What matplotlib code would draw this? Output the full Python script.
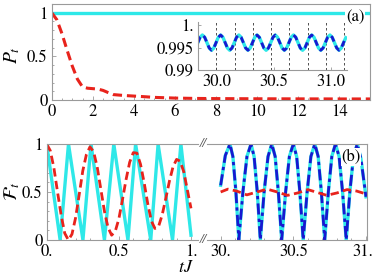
import numpy as np
import matplotlib
matplotlib.use("Agg")
import matplotlib.pyplot as plt
import matplotlib.transforms as mtrans
from matplotlib.ticker import MultipleLocator

plt.rcParams['font.family'] = ['STIXGeneral', 'DejaVu Serif']
plt.rcParams['mathtext.fontset'] = 'stix'

# ---- data ----
# (a) survival probability P_t
t_a = [0, 0.25, 0.5, 0.75, 1.0, 1.25, 1.5, 1.75, 2.0, 2.25, 2.5, 2.75, 3.0,
       3.5, 4.0, 4.5, 5.0, 6.0, 7.0, 8.0, 10.0, 12.0, 14.0, 15.5]
p_red = [1.0, 0.92, 0.76, 0.57, 0.39, 0.24, 0.15, 0.135, 0.13, 0.125, 0.11,
         0.085, 0.062, 0.052, 0.045, 0.038, 0.03, 0.022, 0.018, 0.016, 0.014,
         0.013, 0.012, 0.012]
t_cyan_a = [0, 15.5]
p_cyan = [0.996, 0.996]

# inset of (a), late times
t_ins = np.linspace(29.838, 31.1299, 66)
p_ins = [0.9961, 0.9973, 0.9978, 0.9973, 0.9961, 0.9949, 0.9944, 0.9949,
         0.9961, 0.9973, 0.9978, 0.9973, 0.9961, 0.9949, 0.9944, 0.9949,
         0.9961, 0.9973, 0.9978, 0.9973, 0.9961, 0.9949, 0.9944, 0.9949,
         0.9961, 0.9973, 0.9978, 0.9973, 0.9961, 0.9949, 0.9944, 0.9949,
         0.9961, 0.9973, 0.9978, 0.9973, 0.9961, 0.9949, 0.9944, 0.9949,
         0.9961, 0.9973, 0.9978, 0.9973, 0.9961, 0.9949, 0.9944, 0.9949,
         0.9961, 0.9973, 0.9978, 0.9973, 0.9961, 0.9949, 0.9944, 0.9949,
         0.9961, 0.9973, 0.9978, 0.9973, 0.9961, 0.9949, 0.9944, 0.9949,
         0.9961, 0.9972]
ins_grid = [29.84, 29.999, 30.159, 30.318, 30.478, 30.637, 30.796, 30.956, 31.115]

# (b) fidelity, early times
t_b1_cyan = [0, 0.093, 0.151, 0.251, 0.307, 0.40, 0.465, 0.563, 0.616,
             0.721, 0.772, 0.872, 0.93, 1.0]
f_b1_cyan = [1, 0, 1, 0, 1, 0, 1, 0, 1, 0, 1, 0, 1, 0.05]
t_b1_red = np.arange(0, 1.0001, 0.025)
f_b1_red = [1.0, 0.93, 0.75, 0.5, 0.26, 0.07, 0.0, 0.06, 0.23, 0.47, 0.72,
            0.89, 0.97, 0.92, 0.76, 0.53, 0.30, 0.13, 0.05, 0.09, 0.22, 0.42,
            0.63, 0.81, 0.91, 0.905, 0.79, 0.60, 0.38, 0.20, 0.12, 0.14, 0.26,
            0.43, 0.61, 0.76, 0.84, 0.82, 0.71, 0.52, 0.33]

# (b) fidelity, late times
t_b2 = [30.0, 30.032, 30.064, 30.084, 30.105, 30.125, 30.153, 30.181, 30.209,
        30.23, 30.252, 30.273, 30.299, 30.326, 30.352, 30.375, 30.397, 30.42,
        30.447, 30.473, 30.5, 30.523, 30.545, 30.568, 30.595, 30.621, 30.648,
        30.671, 30.693, 30.716, 30.741, 30.765, 30.79, 30.815, 30.839, 30.864,
        30.889, 30.914, 30.94, 30.965, 31.0]
f_b2 = [0.57, 0.88, 1, 0.87, 0.5, 0, 0.5, 0.87, 1, 0.87, 0.5, 0, 0.5, 0.87,
        1, 0.87, 0.5, 0, 0.5, 0.87, 1, 0.87, 0.5, 0, 0.5, 0.87, 1, 0.87, 0.5,
        0, 0.5, 0.87, 1, 0.87, 0.5, 0, 0.5, 0.87, 1, 0.85, 0.45]
t_b2_red = [30.0, 30.05, 30.11, 30.18, 30.25, 30.32, 30.39, 30.46, 30.53,
            30.6, 30.665, 30.73, 30.8, 30.87, 30.935, 31.0]
f_b2_red = [0.50, 0.53, 0.51, 0.47, 0.50, 0.53, 0.50, 0.465, 0.49, 0.525,
            0.495, 0.465, 0.49, 0.525, 0.51, 0.48]

cyan = '#2ee8e8'
red = '#e8231c'
blue = '#1818d0'
frame = '#9a9a9a'
W, H = 374, 276


def box(l, r, top, bot):
    return [l / W, (H - bot) / H, (r - l) / W, (bot - top) / H]


def style(ax):
    for s in ax.spines.values():
        s.set_color(frame)
        s.set_linewidth(0.8)
    ax.tick_params(which='both', direction='in', color=frame, width=0.6,
                   labelsize=12, pad=3)
    ax.tick_params(which='major', length=3)
    ax.tick_params(which='minor', length=1.5)


fig = plt.figure(figsize=(W / 100, H / 100), dpi=100)

# ---- panel (a) ----
ax = fig.add_axes(box(51.7, 370, 4, 100))
style(ax)
ax.plot(t_cyan_a, p_cyan, color=cyan, lw=2.4)
ax.plot(t_a, p_red, color=red, lw=2.2, dashes=(3, 1.6))
ax.set_xlim(0, 15.5)
ax.set_ylim(0, 1.1)
ax.set_xticks([0, 2, 4, 6, 8, 10, 12, 14])
ax.xaxis.set_minor_locator(MultipleLocator(0.5))
ax.set_yticks([0, 0.5, 1])
ax.set_yticklabels(['0', '0.5', '1'])
ax.yaxis.set_minor_locator(MultipleLocator(0.1))
ax.text(355, H - 17, '(a)', transform=None, fontsize=12, ha='center', va='center',
        bbox=dict(facecolor='white', edgecolor='none', pad=0.5))
fig.text(12 / W, 1 - 55 / H, r'$P_t$', fontsize=14, rotation=90,
         ha='center', va='center')

# inset
axi = fig.add_axes(box(197.5, 347, 22, 70))
axi.patch.set_alpha(0)
for k in ['top', 'right']:
    axi.spines[k].set_visible(False)
for k in ['left', 'bottom']:
    axi.spines[k].set_color(frame)
    axi.spines[k].set_linewidth(0.8)
for g in ins_grid:
    axi.axvline(g, color='#333333', lw=0.6, dashes=(3, 3))
axi.plot(t_ins, p_ins, color=cyan, lw=2.4)
axi.plot(t_ins, p_ins, color=blue, lw=2.0, dashes=(2.2, 1.6))
axi.set_xlim(29.835, 31.14)
axi.set_ylim(0.99, 1.0007)
axi.set_xticks([30.0, 30.5, 31.0])
axi.set_xticklabels(['30.0', '30.5', '31.0'])
axi.set_yticks([0.99, 0.995, 1.0])
axi.set_yticklabels(['0.99', '0.995', '1.'])
axi.tick_params(which='both', direction='in', color=frame, width=0.6,
                length=2, labelsize=12, pad=3)

# ---- panel (b) ----
axl = fig.add_axes(box(46.7, 198, 144, 240))
axr = fig.add_axes(box(207, 366.7, 144, 240))
style(axl)
style(axr)
axl.spines['right'].set_visible(False)
axr.spines['left'].set_visible(False)
axr.tick_params(axis='y', which='both', left=False, labelleft=False)

axl.plot(t_b1_cyan, f_b1_cyan, color=cyan, lw=2.4)
axl.plot(t_b1_red, f_b1_red, color=red, lw=2.0, dashes=(3, 1.6))
axl.set_xlim(0, 1.0485)
axl.set_ylim(0, 1)
axl.set_xticks([0, 0.5, 1])
axl.set_xticklabels(['0.', '0.5', '1.'])
axl.xaxis.set_minor_locator(MultipleLocator(0.1))
axl.set_yticks([0, 0.5, 1])
axl.set_yticklabels(['0', '0.5', '1'])
axl.yaxis.set_minor_locator(MultipleLocator(0.1))

axr.plot(t_b2, f_b2, color=cyan, lw=2.4)
axr.plot(t_b2, f_b2, color=blue, lw=2.0, dashes=(4, 1.5, 1.2, 1.5))
axr.plot(t_b2_red, f_b2_red, color=red, lw=2.0, dashes=(3, 1.6))
axr.set_xlim(29.906, 31.005)
axr.set_ylim(0, 1)
axr.set_xticks([30, 30.5, 31])
axr.set_xticklabels(['30.', '30.5', '31.'])
axr.xaxis.set_minor_locator(MultipleLocator(0.1))
# keep the last label inside the figure
lab = axr.get_xticklabels()[-1]
lab.set_transform(lab.get_transform() +
                  mtrans.ScaledTranslation(-3 / 100, 0, fig.dpi_scale_trans))

for yy in (144, 240):
    fig.text(203 / W, 1 - yy / H, '//', fontsize=9, color='#555555',
             ha='center', va='center', style='italic')

axr.text(351, H - 157, '(b)', transform=None, fontsize=12, ha='center',
         va='center', bbox=dict(facecolor='white', edgecolor='none', pad=0.5))
fig.text(12 / W, 1 - 191 / H, r'$\mathcal{F}_t$', fontsize=14, rotation=90,
         ha='center', va='center')
fig.text(186 / W, 1 - 268 / H, r'$tJ$', fontsize=13, ha='center', va='center')

fig.savefig('out.png', dpi=100)
